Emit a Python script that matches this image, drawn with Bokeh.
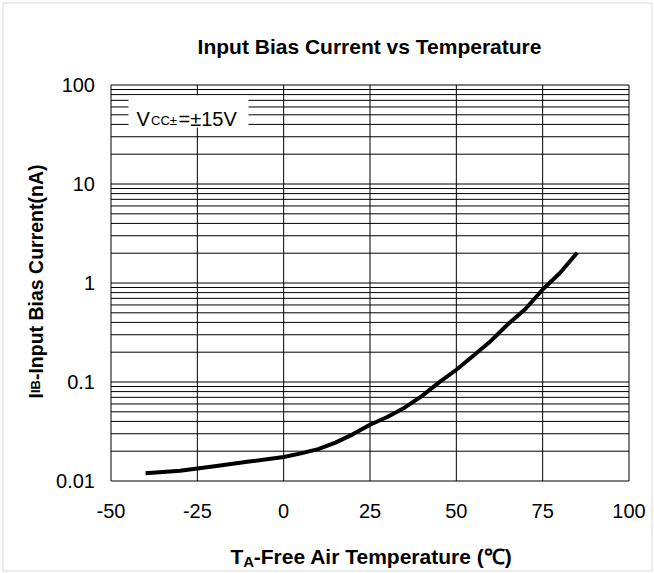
import numpy as np
from bokeh.plotting import figure
from bokeh.models import FixedTicker, CustomJSTickFormatter, Label, BoxAnnotation, Range1d
from bokeh.embed import file_html
from bokeh.resources import INLINE

# ---- data ----
temps = [-40, -30, -20, -10, 0, 5, 10, 15, 20, 25, 30, 35, 40, 45, 50, 55, 60, 65, 70, 75, 80, 85]
ib_na = [0.0120, 0.0127, 0.0141, 0.0157, 0.0175, 0.0190, 0.0210, 0.0244, 0.0296, 0.0370,
         0.0443, 0.0550, 0.0720, 0.0990, 0.1330, 0.1850, 0.2600, 0.3850, 0.5460, 0.8600,
         1.2600, 2.0200]

x_ticks = [-50, -25, 0, 25, 50, 75, 100]
y_ticks = [0.01, 0.1, 1, 10, 100]
y_minor = [m * 10.0 ** e for e in range(-2, 2) for m in range(2, 10)]

title_text = "Input Bias Current vs Temperature"
vcc_main = "V"
vcc_sub = "CC\u00b1"
vcc_rest = "=\u00b115V"

FONT = "Liberation Sans"
W, H = 654, 573

# ---- layout of the plotting box inside the canvas (pixels) ----
box_left, box_right = 110.5, 628.5
box_top, box_bottom = 84.5, 480.5
xs = (box_right - box_left) / (x_ticks[-1] - x_ticks[0])
ys = (box_bottom - box_top) / (np.log10(y_ticks[-1]) - np.log10(y_ticks[0]))
x_start = x_ticks[0] - box_left / xs
x_end = x_ticks[-1] + (W - box_right) / xs
y_start = 10 ** (np.log10(y_ticks[0]) - (H - box_bottom) / ys)
y_end = 10 ** (np.log10(y_ticks[-1]) + box_top / ys)

p = figure(width=W, height=H,
           x_range=Range1d(x_start, x_end), y_range=Range1d(y_start, y_end),
           y_axis_type="log", output_backend="svg", toolbar_location=None,
           min_border=0, min_border_left=0, min_border_right=0,
           min_border_top=0, min_border_bottom=0)
p.title.visible = False
p.background_fill_color = "white"
p.border_fill_color = "white"
p.outline_line_color = None
p.grid.visible = False

# grid lines and box, drawn from the tick arrays
p.segment(x0=x_ticks, y0=[y_ticks[0]] * len(x_ticks),
          x1=x_ticks, y1=[y_ticks[-1]] * len(x_ticks),
          line_color="black", line_width=1)
hy = y_ticks + y_minor
p.segment(x0=[x_ticks[0]] * len(hy), y0=hy, x1=[x_ticks[-1]] * len(hy), y1=hy,
          line_color="black", line_width=1)

# axes, fixed at the box edges
p.xaxis.fixed_location = y_ticks[0]
p.yaxis.fixed_location = x_ticks[0]
p.xaxis.ticker = FixedTicker(ticks=x_ticks, minor_ticks=[])
p.yaxis.ticker = FixedTicker(ticks=y_ticks, minor_ticks=[])
p.xaxis.formatter = CustomJSTickFormatter(code="return String(tick);")
p.yaxis.formatter = CustomJSTickFormatter(code="return String(tick);")
for ax in (p.xaxis[0], p.yaxis[0]):
    ax.axis_line_color = None
    ax.major_tick_line_color = None
    ax.minor_tick_line_color = None
    ax.major_tick_out = 0
    ax.major_tick_in = 0
    ax.minor_tick_out = 0
    ax.minor_tick_in = 0
    ax.major_label_text_font = FONT
    ax.major_label_text_font_size = "20px"
    ax.major_label_text_color = "black"
p.yaxis.major_label_standoff = 16
p.xaxis.major_label_standoff = 23

# curve
p.line(temps, ib_na, line_width=4, line_color="black", line_join="round")

# outer frame of the picture
p.add_layout(BoxAnnotation(left=2.5, right=W - 2.5, bottom=2.5, top=H - 2.5,
                           left_units="screen", right_units="screen",
                           bottom_units="screen", top_units="screen",
                           fill_alpha=0, line_color="#7f7f7f", line_width=1))

def lab(text, x, y, size, bold=False, angle=0.0, align="left"):
    p.add_layout(Label(x=x, y=H - y, x_units="screen", y_units="screen", text=text,
                       text_font=FONT, text_font_size=size,
                       text_font_style="bold" if bold else "normal",
                       text_color="black", text_align=align,
                       text_baseline="alphabetic", angle=angle))

# title (y given from top of picture)
lab(title_text, 369, 45.7, "21px", bold=True, align="center")

# x-axis title: T_A-Free Air Temperature (℃)
lab("T", 230, 555.7, "21px", bold=True)
lab("A", 242.8, 560.5, "15px", bold=True)
lab("-Free Air Temperature (\u2103)", 253.3, 555.7, "21px", bold=True)

# y-axis title: I_IB-Input Bias Current(nA)
lab("I", 35, 398, "19.5px", bold=True, angle=np.pi / 2)
lab("IB", 35, 392.6, "13px", bold=True, angle=np.pi / 2)
lab("-Input Bias Current(nA)", 35, 379.6, "19.5px", bold=True, angle=np.pi / 2)

# condition label with white box
p.add_layout(BoxAnnotation(left=128, right=248, bottom=H - 127, top=H - 95,
                           left_units="screen", right_units="screen",
                           bottom_units="screen", top_units="screen",
                           fill_color="white", fill_alpha=1, line_color=None))
lab(vcc_main, 136, 118, "20px")
lab(vcc_sub, 150.5, 120, "13px")
lab(vcc_rest, 178, 118, "20px")

open("out.html", "w").write(file_html(p, INLINE))
